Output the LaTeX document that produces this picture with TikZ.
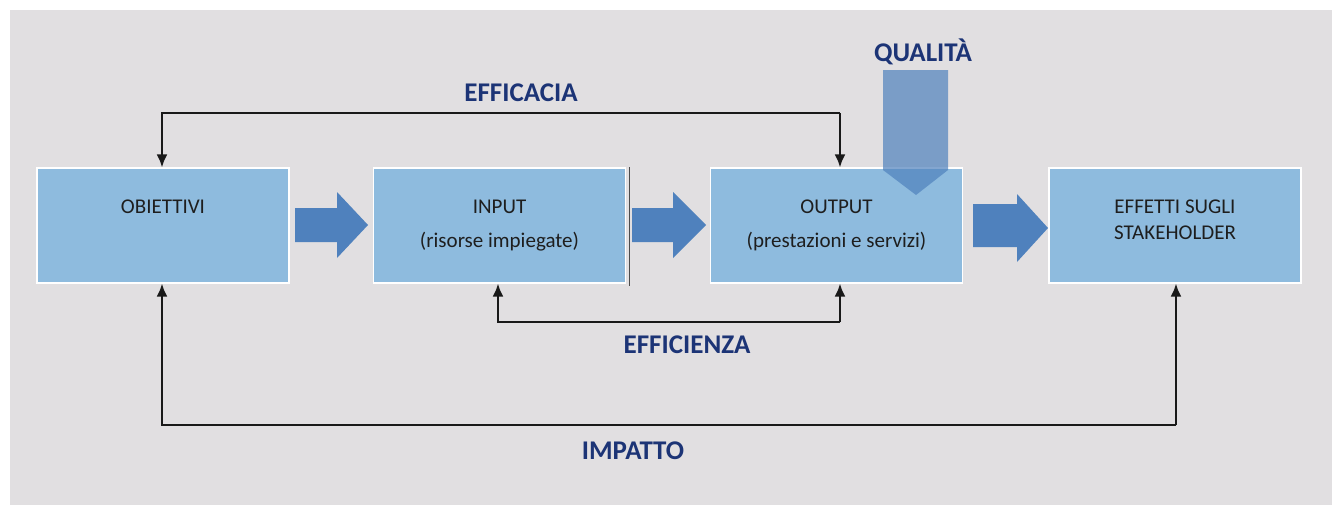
\documentclass[tikz,border=0pt]{standalone}
\usepackage{fontspec}
\setmainfont{Carlito}
\definecolor{bggray}{RGB}{225,223,225}
\definecolor{boxblue}{RGB}{142,187,222}
\definecolor{arrblue}{RGB}{79,129,189}
\definecolor{navy}{RGB}{28,52,118}
\definecolor{boxtxt}{RGB}{30,30,30}
\begin{document}
\begin{tikzpicture}[x=0.5pt,y=-0.5pt,
  box/.style={draw=white,line width=0.6pt,fill=boxblue,minimum width=126pt,minimum height=57.5pt,inner sep=0pt},
  boxtext/.style={text=boxtxt,font=\fontsize{10.5}{12}\selectfont,inner sep=0pt,align=center},
  lbl/.style={text=navy,font=\fontsize{13.5}{15}\bfseries\selectfont,inner sep=0pt},
  conn/.style={draw=black!90,line width=1.1pt,-{Latex[length=6.5pt,width=5.5pt]}},
  blockarrow/.style={fill=arrblue,draw=none}]
\usetikzlibrary{arrows.meta}
\useasboundingbox (0,0) rectangle (1332,504);
\fill[white] (-5,-5) rectangle (1340,512);
\fill[bggray] (10,10) rectangle (1340,512);
% boxes
\node[box] (obj) at (163,225.5) {};
\node[box] (inp) at (499.5,225.5) {};
\node[box] (out) at (836.5,225.5) {};
\node[box] (eff) at (1175,225.5) {};
\draw[black!70,line width=0.6pt] ([xshift=1.5pt]inp.north east) -- ([xshift=1.5pt,yshift=-1pt]inp.south east);
% texts
\node[boxtext] (tobj) at (163,207) {OBIETTIVI};
\node[boxtext] (tinp1) at (499.5,207) {INPUT};
\node[boxtext] (tinp2) at (499.5,242) {(risorse impiegate)};
\node[boxtext] (tout1) at (836.5,207) {OUTPUT};
\node[boxtext] (tout2) at (836.5,242) {(prestazioni e servizi)};
\node[boxtext] (teff1) at (1175,207) {EFFETTI SUGLI};
\node[boxtext] (teff2) at (1175,233) {STAKEHOLDER};
% block arrows
\fill[blockarrow] (295,208) -- (337,208) -- (337,192) -- (368,225) -- (337,258) -- (337,242) -- (295,242) -- cycle;
\fill[blockarrow] (632,208) -- (673,208) -- (673,192) -- (706,225) -- (673,258) -- (673,242) -- (632,242) -- cycle;
\fill[blockarrow] (973,204) -- (1017,204) -- (1017,194) -- (1048,228) -- (1017,262) -- (1017,247) -- (973,247) -- cycle;
% quality arrow
\fill[arrblue,opacity=0.7] (883,70) -- (948,70) -- (948,170) -- (916,195) -- (883,170) -- cycle;
\node[lbl] (lq) at (923,52) {QUALITÀ};
% connectors
\coordinate (ca) at (162,113);
\coordinate (cb) at (840,113);
\draw[conn] (cb) -- (ca) -- (obj.north -| ca);
\draw[conn] (ca -| cb) -- (out.north -| cb);
\node[lbl] (lefc) at (521,93) {EFFICACIA};
\coordinate (ea) at (498,322);
\coordinate (eb) at (840,322);
\draw[conn] (eb) -- (ea) -- (inp.south -| ea);
\draw[conn] (ea -| eb) -- (out.south -| eb);
\node[lbl] (lefi) at (687,345) {EFFICIENZA};
\coordinate (ia) at (162,425);
\coordinate (ib) at (1176,425);
\draw[conn] (ib) -- (ia) -- (obj.south -| ia);
\draw[conn] (ia -| ib) -- (eff.south -| ib);
\node[lbl] (limp) at (633,451) {IMPATTO};
\end{tikzpicture}
\end{document}
